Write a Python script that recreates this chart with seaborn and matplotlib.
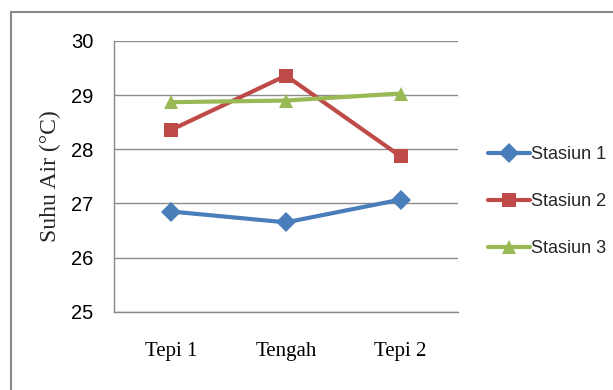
import matplotlib
matplotlib.use("Agg")
import matplotlib.pyplot as plt
from matplotlib.patches import Rectangle
import seaborn as sns
import pandas as pd

# Water temperature per sampling position for three stations
positions = ["Tepi 1", "Tengah", "Tepi 2"]
stasiun_1 = [26.85, 26.65, 27.07]
stasiun_2 = [28.36, 29.36, 27.87]
stasiun_3 = [28.87, 28.90, 29.03]
series_names = ["Stasiun 1", "Stasiun 2", "Stasiun 3"]
y_ticks = [25, 26, 27, 28, 29, 30]

df = pd.DataFrame({
    "Posisi": positions * 3,
    "Suhu": stasiun_1 + stasiun_2 + stasiun_3,
    "Stasiun": [n for n in series_names for _ in positions],
})

sns.set_theme(style="white")
plt.rcParams["font.family"] = ["DejaVu Sans"]

sans = ["Liberation Sans", "DejaVu Sans"]
serif = ["Liberation Serif", "DejaVu Serif"]

palette = {"Stasiun 1": "#4A7EBB", "Stasiun 2": "#BE4B48", "Stasiun 3": "#98B954"}
markers = {"Stasiun 1": "D", "Stasiun 2": "s", "Stasiun 3": "^"}

fig = plt.figure(figsize=(6.13, 3.9), dpi=100)
ax = fig.add_axes([0.186, 0.2008, 0.561, 0.6941])

sns.lineplot(data=df, x="Posisi", y="Suhu", hue="Stasiun", style="Stasiun",
             markers=markers, dashes=False, palette=palette, sort=False,
             linewidth=3, markersize=10, markeredgewidth=0, ax=ax)

ax.set_ylim(25, 30)
ax.set_yticks(y_ticks)
ax.set_yticklabels([str(t) for t in y_ticks], family=sans, fontsize=14.5)
ax.set_xlim(-0.5, 2.5)
ax.set_xticks(range(len(positions)))
ax.set_xticklabels(positions, family=serif, fontsize=15)
ax.set_xticks([-0.5, 0.5, 1.5, 2.5], minor=True)
ax.tick_params(axis="x", which="major", length=0, pad=22, colors="black")
ax.tick_params(axis="x", which="minor", length=6, width=1, color="#888888", direction="out")
ax.tick_params(axis="y", length=6, width=1, direction="out", pad=9, colors="black")
for t in ax.yaxis.get_ticklines():
    t.set_color("#888888")
ax.yaxis.grid(True, color="#8C8C8C", linewidth=1)
ax.set_axisbelow(True)
for side in ["top", "right"]:
    ax.spines[side].set_visible(False)
for side in ["left", "bottom"]:
    ax.spines[side].set_color("#888888")
    ax.spines[side].set_linewidth(1)

ax.set_xlabel("")
ax.set_ylabel("Suhu Air (°C)", family=serif, fontsize=17, labelpad=7)

handles, labels = ax.get_legend_handles_labels()
ax.legend(handles, labels, loc="center left", bbox_to_anchor=(0.785, 0.483),
          bbox_transform=fig.transFigure, frameon=False,
          prop={"family": sans, "size": 13}, handlelength=2.3,
          handletextpad=0.05, labelspacing=1.65, borderaxespad=0)

# outer chart frame
fig.patches.append(Rectangle((0.018, -0.1), 2, 1.069, transform=fig.transFigure,
                             fill=False, edgecolor="#8A8A8A", linewidth=1.5))

fig.savefig("out.png", dpi=100)
